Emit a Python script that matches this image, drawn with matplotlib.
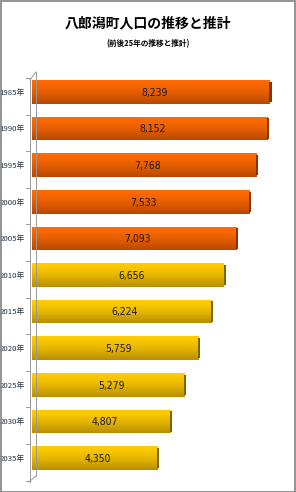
import matplotlib.pyplot as plt
import numpy as np
from matplotlib.colors import to_rgb
from matplotlib.lines import Line2D
from matplotlib.patches import Rectangle

plt.rcParams['font.family'] = ['Noto Sans CJK JP', 'DejaVu Sans']

years = ["1985年", "1990年", "1995年", "2000年", "2005年", "2010年",
         "2015年", "2020年", "2025年", "2030年", "2035年"]
population = [8239, 8152, 7768, 7533, 7093, 6656, 6224, 5759, 5279, 4807, 4350]
is_estimate = [False, False, False, False, False, True, True, True, True, True, True]

TITLE = "八郎潟町人口の推移と推計"
SUBTITLE = "(前後25年の推移と推計)"

# top/bottom gradient colours + darker end cap
ACTUAL = ("#ff6a00", "#b84800", "#8a3400")
ESTIMATE = ("#ffcc00", "#b88f00", "#806400")

W, H = 296, 492
fig = plt.figure(figsize=(W / 100, H / 100), dpi=100)
fig.patch.set_facecolor("white")

# axes placed so that bars start at ~32px and rows span ~74..476px
ax = fig.add_axes([32 / W, 1 - 476.3 / H, 262 / W, 402.6 / H])
ax.set_xlim(0, 9060)
ax.set_ylim(len(years) - 0.5, -0.5)
ax.axis("off")
px_per_unit = 262 / 9060

bar_h = 0.64
n_strips = 24
y = np.arange(len(years))
for yi, val, est in zip(y, population, is_estimate):
    top, bot, cap = ESTIMATE if est else ACTUAL
    c0, c1 = np.array(to_rgb(top)), np.array(to_rgb(bot))
    for k in range(n_strips):
        t = k / (n_strips - 1)
        col = c0 * (1 - t ** 1.4) + c1 * t ** 1.4
        ax.barh(yi - bar_h / 2 + (k + 0.5) * bar_h / n_strips, val,
                height=bar_h / n_strips * 1.05, color=col, linewidth=0)
    # dark end cap for the 3D look
    ax.add_patch(Rectangle((val - 30, yi - bar_h / 2 + 0.04), 75, bar_h - 0.08,
                           color=cap, linewidth=0, zorder=3))
    ax.text(val / 2 + 3 / px_per_unit, yi + 0.02, f"{val:,}", ha="center", va="center",
            fontsize=7.5, color="#1a1a1a", family=["DejaVu Sans"],
            fontstretch="condensed", zorder=4)
    ax.text(-7 / px_per_unit, yi + 0.02, years[yi], ha="right", va="center",
            fontsize=5.6, color="#223344")

# back wall lines (3D frame)
def px(x, yy):
    return x / W, 1 - yy / H

wall = [((36, 72), (36, 476)), ((30, 80), (36, 72)), ((29, 482), (36, 476)),
        ((30, 80), (30, 482))]
for a, b in wall:
    (x0, y0), (x1, y1) = px(*a), px(*b)
    fig.add_artist(Line2D([x0, x1], [y0, y1], color="#999999", lw=0.7))
for i in range(len(years) + 1):
    yy = 74 + i * 36.6 + 4
    (x0, y0), (x1, y1) = px(26, yy), px(30, yy)
    fig.add_artist(Line2D([x0, x1], [y0, y1], color="#999999", lw=0.7))

fig.text(0.5, 1 - 23 / H, TITLE, ha="center", va="center", fontsize=10,
         fontweight="bold")
fig.text(0.5, 1 - 44 / H, SUBTITLE, ha="center", va="center", fontsize=5.5,
         fontweight="bold")

fig.add_artist(Rectangle((0.5 / W, 0.5 / H), 1 - 1.5 / W, 1 - 1.5 / H,
                         fill=False, edgecolor="#808080", lw=1.2,
                         transform=fig.transFigure))

fig.savefig("out.png", dpi=100)
